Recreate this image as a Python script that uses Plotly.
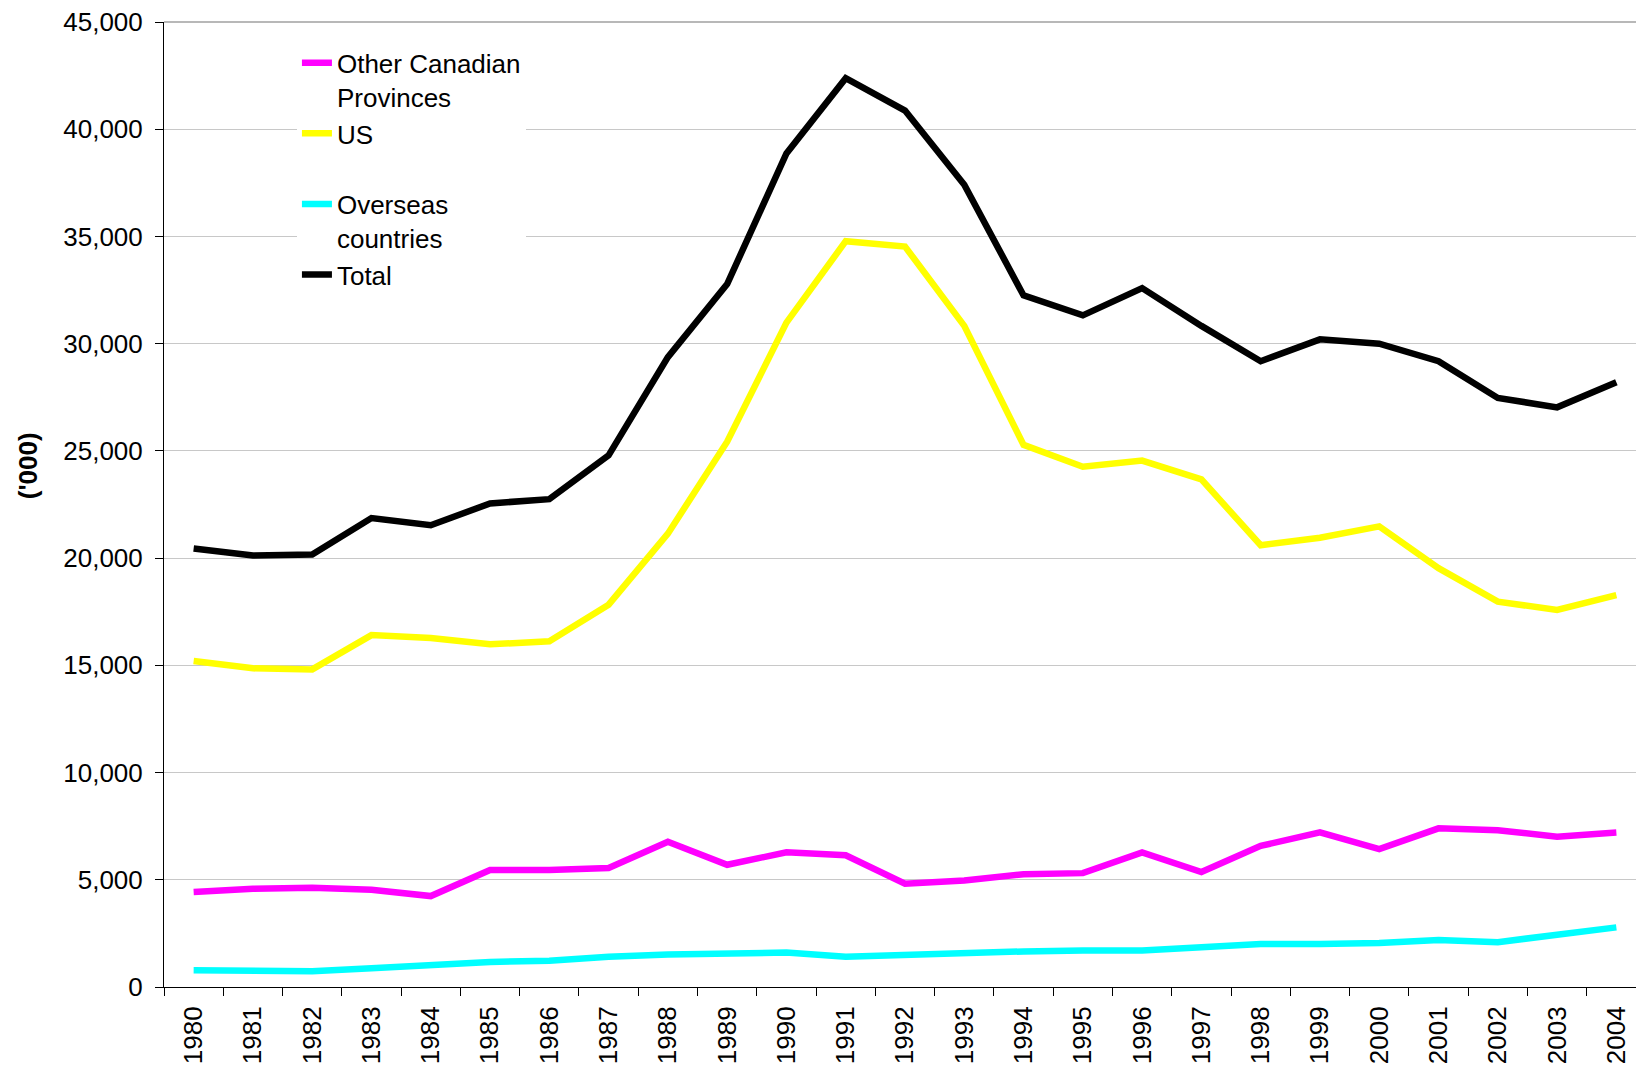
import plotly.graph_objects as go

years = [str(y) for y in range(1980, 2005)]

other_canadian = [4430, 4580, 4630, 4530, 4240, 5460, 5460, 5550, 6770, 5700,
                  6280, 6140, 4820, 4970, 5260, 5310, 6280, 5360, 6580, 7210,
                  6430, 7400, 7310, 7010, 7210]
us = [15200, 14860, 14810, 16410, 16270, 15980, 16120, 17830, 21140, 25430,
      30980, 34780, 34530, 30830, 25280, 24260, 24550, 23670, 20600, 20950,
      21480, 19530, 17970, 17580, 18270]
overseas = [780, 730, 730, 880, 1020, 1170, 1220, 1410, 1510, 1560,
            1610, 1410, 1510, 1560, 1660, 1700, 1700, 1850, 2000, 2000,
            2050, 2190, 2090, 2440, 2780]
total = [20450, 20120, 20170, 21870, 21530, 22550, 22750, 24790, 29370, 32780,
         38870, 42380, 40870, 37410, 32250, 31320, 32590, 30830, 29180, 30200,
         30000, 29180, 27470, 27030, 28200]

series_names = ["Other Canadian<br>Provinces", "US<br>&nbsp;", "Overseas<br>countries", "Total"]
series_values = [other_canadian, us, overseas, total]
series_colors = ["#FF00FF", "#FFFF00", "#00FFFF", "#000000"]

FONT = "Liberation Sans, Arial, sans-serif"

fig = go.Figure()
for name, vals, col in zip(series_names, series_values, series_colors):
    fig.add_trace(go.Scatter(x=years, y=vals, mode="lines", name=name,
                             line=dict(color=col, width=6.5)))

fig.update_layout(
    width=1644, height=1070,
    margin=dict(l=156, r=6, t=14, b=91, autoexpand=False),
    paper_bgcolor="white", plot_bgcolor="white",
    font=dict(family=FONT, size=26, color="black"),
    showlegend=True,
    legend=dict(x=0.0897, y=0.982, xanchor="left", yanchor="top",
                bgcolor="white", borderwidth=0, valign="top",
                font=dict(family=FONT, size=26, color="black"),
                traceorder="normal", tracegroupgap=0),
    xaxis=dict(type="category", range=[-0.5, 24.5], tickangle=-90,
               tickson="boundaries", automargin=False,
               ticks="outside", ticklen=8, tickcolor="black",
               ticklabelstandoff=8,
               showline=True, linecolor="black", linewidth=1,
               showgrid=False, tickfont=dict(size=26)),
    yaxis=dict(range=[0, 45000], dtick=5000, tickformat=",d", automargin=False,
               ticks="outside", ticklen=8, tickcolor="black",
               ticklabelstandoff=7, ticklabeloverflow="allow",
               showline=True, linecolor="black", linewidth=1,
               showgrid=True, gridcolor="#C8C8C8", gridwidth=1,
               zeroline=False, tickfont=dict(size=26)),
    shapes=[dict(type="line", xref="paper", yref="paper", x0=0, x1=1, y0=1, y1=1,
                 line=dict(color="#A0A0A0", width=1.5), layer="below")],
)

fig.add_annotation(text="<b>('000)</b>", xref="paper", yref="paper",
                   x=-0.092, y=0.5403, textangle=-90, showarrow=False,
                   font=dict(family=FONT, size=26, color="black"),
                   xanchor="center", yanchor="middle")

fig.write_html("out.html")
